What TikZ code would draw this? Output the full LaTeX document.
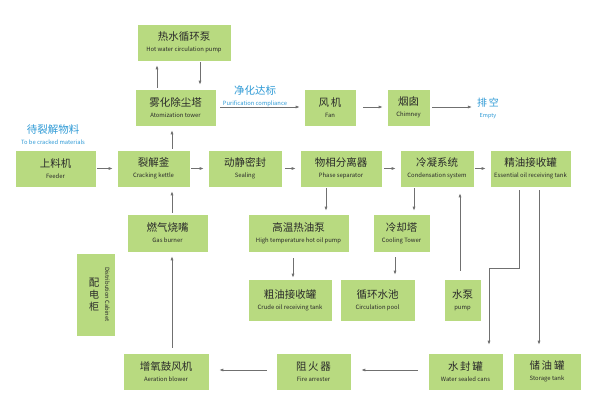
\documentclass[tikz,border=0pt]{standalone}
\usepackage{fontspec}
\newfontfamily\cjk{Noto Sans CJK SC}
\usetikzlibrary{arrows.meta}
\definecolor{boxgreen}{HTML}{B8DA80}
\definecolor{lblue}{HTML}{2E9AD6}
\definecolor{linegray}{HTML}{707070}
\definecolor{txt}{HTML}{2A2A2A}
\newcommand{\bt}[2]{{\fontsize{10.5}{12}\selectfont #1}\\[-1pt]{\fontsize{5.9}{6.5}\selectfont #2}}
\tikzset{
  bx/.style={fill=boxgreen, draw=white, line width=0.6pt, inner sep=0pt, align=center, text=txt, font=\cjk, minimum height=37pt},
  arr/.style={draw=linegray, line width=0.7pt, -{Latex[length=4pt,width=3pt]}, shorten <=1pt, shorten >=4pt},
  lbl/.style={text=lblue, font=\cjk, align=center, inner sep=0pt}
}
\begin{document}
\begin{tikzpicture}[x=1pt,y=-1pt]
\useasboundingbox[fill=white] (0,0) rectangle (595,414);
% top
\node[bx, minimum width=94pt] (hot) at (184,42.5) {\bt{热水循环泵}{Hot water circulation pump}};
\node[bx, minimum width=81pt] (atom) at (175.5,107.5) {\bt{雾化除尘塔}{Atomization tower}};
\node[bx, minimum width=52pt] (fan) at (330,107.5) {\bt{风\,机}{Fan}};
\node[bx, minimum width=43pt] (chim) at (408.5,107.5) {\bt{烟囱}{Chimney}};
\node[lbl] (empty) at (488,108) {{\fontsize{10}{12}\selectfont 排\,空}\\[-1pt]{\fontsize{5.5}{6}\selectfont Empty}};
\node[lbl] (purif) at (255,96) {{\fontsize{10.5}{12}\selectfont 净化达标}\\[-1pt]{\fontsize{5.8}{6.5}\selectfont Purification compliance}};
\node[lbl] (raw) at (53,135) {{\fontsize{10.5}{12}\selectfont 待裂解物料}\\[-1pt]{\fontsize{5.8}{6.5}\selectfont To be cracked materials}};
% main row
\node[bx, minimum width=81pt] (feed) at (55.5,168.5) {\bt{上料机}{Feeder}};
\node[bx, minimum width=73pt] (crack) at (153.5,168.5) {\bt{裂解釜}{Cracking kettle}};
\node[bx, minimum width=74pt] (seal) at (245,168.5) {\bt{动静密封}{Sealing}};
\node[bx, minimum width=82pt] (phase) at (341,168.5) {\bt{物相分离器}{Phase separator}};
\node[bx, minimum width=74pt] (cond) at (437,168.5) {\bt{冷凝系统}{Condensation system}};
\node[bx, minimum width=81pt] (ess) at (530.5,168.5) {\bt{精油接收罐}{Essential oil receiving tank}};
% second row
\node[bx, minimum width=81pt, minimum height=38pt] (gas) at (167.5,233) {\bt{燃气烧嘴}{Gas burner}};
\node[bx, minimum width=101pt, minimum height=38pt] (hop) at (298.5,233) {\bt{高温热油泵}{High temperature hot oil pump}};
\node[bx, minimum width=57pt, minimum height=38pt] (cool) at (401.5,233) {\bt{冷却塔}{Cooling Tower}};
% third row
\node[bx, minimum width=39pt, minimum height=83pt] (dist) at (95.5,294.5) {};
\node[text=txt, font=\cjk, align=center, inner sep=0pt] (distcn) at (94,294.5) {\fontsize{10.5}{14}\selectfont 配\\电\\柜};
\node[text=txt, font=\cjk, inner sep=0pt, rotate=-90] (disten) at (107.5,294.5) {\fontsize{5.8}{6.5}\selectfont Distribution Cabinet};
\node[bx, minimum width=84pt, minimum height=42pt] (crude) at (290,300) {\bt{粗油接收罐}{Crude oil receiving tank}};
\node[bx, minimum width=75pt, minimum height=42pt] (pool) at (377.5,300) {\bt{循环水池}{Circulation pool}};
\node[bx, minimum width=37pt, minimum height=42pt] (pump) at (462.5,300) {\bt{水泵}{pump}};
% bottom row
\node[bx, minimum width=86pt] (aer) at (166,371.5) {\bt{增氧鼓风机}{Aeration blower}};
\node[bx, minimum width=75pt] (fire) at (313.5,371.5) {\bt{阻\,火\,器}{Fire arrester}};
\node[bx, minimum width=75pt] (wsc) at (465.5,371.5) {\bt{水\,封\,罐}{Water sealed cans}};
\node[bx, minimum width=68pt] (stor) at (547,371.5) {\bt{储\,油\,罐}{Storage tank}};
% helper coordinates
\coordinate (x157) at (157,0);
\coordinate (x200) at (200,0);
\coordinate (x172) at (172,0);
\coordinate (x326) at (326,0);
\coordinate (x414) at (414,0);
\coordinate (x293) at (293,0);
\coordinate (x395) at (395,0);
\coordinate (x460) at (460,0);
\coordinate (x519) at (519,0);
\coordinate (x539) at (539,0);
\coordinate (bend1) at (519,268);
\coordinate (bend2) at (489,268);
\coordinate (y107) at (0,107);
\coordinate (y370) at (0,370);
% connectors
\draw[arr] (atom.north -| x157) -- (hot.south -| x157);
\draw[arr] (hot.south -| x200) -- (atom.north -| x200);
\draw[arr, shorten <=4pt] (atom.east |- y107) -- (fan.west |- y107);
\draw[arr, shorten <=7pt] (fan.east |- y107) -- (chim.west |- y107);
\draw[arr, shorten <=2pt, shorten >=5pt] (chim.east |- y107) -- (empty.west |- y107);
\draw[arr] (feed) -- (crack);
\draw[arr] (crack) -- (seal);
\draw[arr, shorten <=3pt] (seal) -- (phase);
\draw[arr, shorten <=2pt] (phase) -- (cond);
\draw[arr] (cond) -- (ess);
\draw[arr] (crack.north -| x172) -- (atom.south -| x172);
\draw[arr] (gas.north -| x172) -- (crack.south -| x172);
\draw[arr, shorten <=5pt] (aer.north -| x172) -- (gas.south -| x172);
\draw[arr, shorten >=3pt] (phase.south -| x326) -- (hop.north -| x326);
\draw[arr, shorten >=3pt] (cond.south -| x414) -- (cool.north -| x414);
\draw[arr, shorten <=6pt, shorten >=1pt] (hop.south -| x293) -- (crude.north -| x293);
\draw[arr, shorten <=5pt, shorten >=4pt] (cool.south -| x395) -- (pool.north -| x395);
\draw[arr, shorten <=8pt, shorten >=6pt] (pump.north -| x460) -- (cond.south -| x460);
\draw[arr, shorten <=3pt, shorten >=8pt] (ess.south -| x519) -- (bend1) -- (bend2) -- (wsc.north -| bend2);
\draw[arr, shorten <=3pt, shorten >=8pt] (ess.south -| x539) -- (stor.north -| x539);
\draw[arr, shorten <=10pt, shorten >=10pt] (wsc.west |- y370) -- (fire.east |- y370);
\draw[arr, shorten <=9pt, shorten >=10pt] (fire.west |- y370) -- (aer.east |- y370);
\end{tikzpicture}
\end{document}
